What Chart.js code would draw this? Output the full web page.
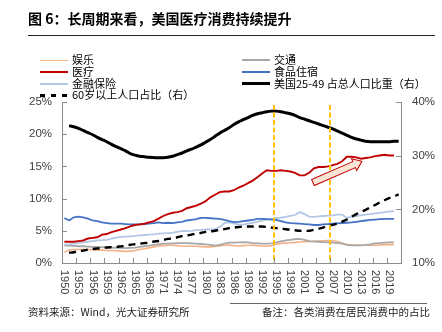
<!DOCTYPE html>
<html><head><meta charset="utf-8">
<script src="https://cdn.jsdelivr.net/npm/chart.js@4.4.1/dist/chart.umd.min.js"></script>
<style>
html,body{margin:0;padding:0;background:#fff;}
#wrap{position:relative;width:442px;height:332px;overflow:hidden;font-family:"Noto Sans CJK SC","Noto Sans",sans-serif;color:#000;}
#chart{position:absolute;left:0;top:0;}
.title{position:absolute;left:28px;top:9px;font-size:14px;font-weight:bold;line-height:18px;white-space:nowrap;}
.rule{position:absolute;left:28px;width:407px;top:35px;height:1px;background:#222;}
.lgt{position:absolute;font-size:11px;line-height:12px;white-space:nowrap;}
.lgl{position:absolute;width:28px;}
.foot{position:absolute;font-size:10.5px;line-height:12px;white-space:nowrap;color:#222;}
.frule{position:absolute;left:230px;width:197px;top:303px;height:1px;background:#666;}
</style>
</head><body>
<div id="wrap">
  <canvas id="chart" width="442" height="332"></canvas>
  <div class="title">图 6：长周期来看，美国医疗消费持续提升</div>
  <div class="rule"></div>
  <div id="legend"></div>
  <div class="frule"></div>
  <div class="foot" style="left:28px;top:306px;">资料来源：Wind，光大证券研究所</div>
  <div class="foot" style="right:12px;top:306px;">备注：各类消费在居民消费中的占比</div>
</div>
<script>
// ---------- data ----------
const consumptionYears = [1950,1951,1952,1953,1954,1955,1956,1957,1958,1959,1960,1961,1962,1963,1964,1965,1966,1967,1968,1969,1970,1971,1972,1973,1974,1975,1976,1977,1978,1979,1980,1981,1982,1983,1984,1985,1986,1987,1988,1989,1990,1991,1992,1993,1994,1995,1996,1997,1998,1999,2000,2001,2002,2003,2004,2005,2006,2007,2008,2009,2010,2011,2012,2013,2014,2015,2016,2017,2018,2019,2020];
const populationYears = [1951,1952,1953,1954,1955,1956,1957,1958,1959,1960,1961,1962,1963,1964,1965,1966,1967,1968,1969,1970,1971,1972,1973,1974,1975,1976,1977,1978,1979,1980,1981,1982,1983,1984,1985,1986,1987,1988,1989,1990,1991,1992,1993,1994,1995,1996,1997,1998,1999,2000,2001,2002,2003,2004,2005,2006,2007,2008,2009,2010,2011,2012,2013,2014,2015,2016,2017,2018,2019,2020,2021];
const tickLabels = [1950,1953,1956,1959,1962,1965,1968,1971,1974,1977,1980,1983,1986,1989,1992,1995,1998,2001,2004,2007,2010,2013,2016,2019];

const entertainment = [1.65,2.0,2.1,2.1,2.1,2.1,2.05,2.0,2.0,1.95,1.95,1.9,1.85,1.8,1.85,1.95,2.1,2.2,2.35,2.5,2.65,2.7,2.75,2.75,2.7,2.6,2.6,2.6,2.6,2.55,2.5,2.5,2.55,2.65,2.75,2.8,2.7,2.65,2.7,2.75,2.75,2.7,2.65,2.6,2.7,2.9,3.05,3.1,3.15,3.2,3.25,3.3,3.35,3.35,3.4,3.45,3.5,3.45,3.35,3.1,2.85,2.8,2.75,2.75,2.75,2.75,2.75,2.8,2.85,2.85,2.85];
const healthcare = [3.3,3.3,3.3,3.4,3.5,3.8,3.9,4.0,4.4,4.5,4.8,5.0,5.2,5.4,5.7,5.9,6.0,6.1,6.3,6.5,6.9,7.3,7.6,7.8,7.9,8.1,8.5,8.7,8.9,9.2,9.6,10.2,10.6,11.0,11.1,11.1,11.3,11.7,12.0,12.4,12.8,13.3,13.9,14.4,14.3,14.3,14.4,14.3,14.2,14.0,13.6,13.6,14.0,14.7,14.9,14.9,15.0,15.2,15.4,15.8,16.5,16.5,16.4,16.2,16.3,16.4,16.6,16.7,16.8,16.7,16.7];
const finance = [2.85,2.9,3.0,3.1,3.2,3.3,3.4,3.5,3.55,3.6,3.8,3.95,4.05,4.1,4.15,4.2,4.3,4.35,4.4,4.45,4.55,4.6,4.65,4.7,4.85,5.0,4.95,5.0,5.1,5.15,5.2,5.2,5.25,5.6,6.2,6.3,6.15,6.0,5.95,6.1,6.25,6.4,6.6,6.75,6.85,6.95,7.05,7.15,7.3,7.45,7.9,7.6,7.2,7.15,7.25,7.3,7.35,7.4,7.5,7.5,7.0,7.2,7.3,7.4,7.5,7.6,7.7,7.8,7.9,8.0,8.05];
const transport = [2.7,2.7,2.65,2.6,2.6,2.55,2.5,2.5,2.45,2.4,2.4,2.35,2.35,2.3,2.35,2.4,2.5,2.6,2.7,2.8,2.9,3.0,3.0,3.05,3.1,3.1,3.1,3.05,3.0,2.95,2.9,2.8,2.7,2.8,3.0,3.15,3.15,3.2,3.25,3.2,3.1,3.05,3.0,3.0,3.05,3.2,3.35,3.5,3.6,3.7,3.75,3.6,3.4,3.35,3.3,3.25,3.2,3.15,3.1,3.0,2.8,2.75,2.75,2.75,2.8,2.9,3.05,3.1,3.15,3.2,3.2];
const foodHousing = [7.0,6.6,7.1,7.2,7.1,6.9,6.6,6.5,6.3,6.2,6.1,6.1,6.1,6.05,6.0,6.0,6.0,6.05,6.1,6.2,6.3,6.2,6.25,6.2,6.3,6.4,6.6,6.7,6.8,7.0,7.0,6.95,6.9,6.85,6.7,6.5,6.35,6.4,6.5,6.6,6.7,6.85,6.85,6.8,6.75,6.7,6.5,6.3,6.2,6.15,6.1,6.05,6.0,5.9,5.9,6.0,6.05,6.1,6.15,6.2,6.25,6.3,6.4,6.5,6.6,6.7,6.75,6.8,6.85,6.85,6.85];
const age60Share = [11.9,12.0,12.2,12.3,12.5,12.6,12.7,12.8,12.9,12.95,13.0,13.1,13.2,13.4,13.5,13.6,13.7,13.8,14.0,14.1,14.3,14.5,14.6,14.8,15.0,15.1,15.3,15.5,15.6,15.8,15.9,16.0,16.2,16.3,16.5,16.6,16.7,16.8,16.8,16.8,16.8,16.8,16.7,16.6,16.5,16.4,16.3,16.2,16.1,16.0,16.0,16.0,16.2,16.4,16.6,16.9,17.1,17.4,17.7,18.1,18.6,19.1,19.5,19.9,20.4,20.8,21.3,21.7,22.1,22.4,22.8];
const age2549Share = [35.6,35.4,35.1,34.7,34.3,33.9,33.4,33.0,32.6,32.1,31.7,31.3,30.9,30.4,30.1,29.9,29.8,29.7,29.65,29.6,29.6,29.7,29.9,30.2,30.5,30.9,31.2,31.6,32.0,32.5,33.0,33.6,34.2,34.7,35.2,35.8,36.3,36.7,37.1,37.5,37.8,38.0,38.2,38.3,38.3,38.2,38.0,37.8,37.5,37.1,36.8,36.5,36.2,35.9,35.6,35.3,35.0,34.6,34.2,33.8,33.4,33.1,32.9,32.7,32.6,32.6,32.6,32.6,32.6,32.7,32.7];

const seriesNames = ['娱乐','医疗','金融保险','60岁以上人口占比（右）','交通','食品住宿','美国25-49 占总人口比重（右）'];
const markerYears = [1994.6, 2006.5];         // vertical reference lines
const arrowFrom = [2002.8, 12.5];             // [year, % on left axis]
const arrowTo   = [2013.2, 15.8];

// ---------- styles ----------
const styles = [
  {color:'#F4B183', width:1.6, dash:[], axis:'y'},
  {color:'#C00000', width:1.9, dash:[], axis:'y'},
  {color:'#B4C7E7', width:1.8, dash:[], axis:'y'},
  {color:'#000000', width:2.4, dash:[7,5], axis:'y2'},
  {color:'#A8A8A8', width:1.8, dash:[], axis:'y'},
  {color:'#4472C4', width:1.8, dash:[], axis:'y'},
  {color:'#000000', width:3.0, dash:[], axis:'y2'}
];
const seriesValues = [entertainment, healthcare, finance, age60Share, transport, foodHousing, age2549Share];
const AXIS = '#8C8C8C';

function pts(xs, ys){ return ys.map((v,i)=>({x:xs[i], y:v})); }

// draw order: index 0 on top in Chart.js -> put black lines first
const drawOrder = [6,3,1,5,2,4,0];
const datasets = drawOrder.map(i => ({
  label: seriesNames[i],
  data: pts(styles[i].axis==='y2' ? populationYears : consumptionYears, seriesValues[i]),
  borderColor: styles[i].color,
  borderWidth: styles[i].width,
  borderDash: styles[i].dash,
  yAxisID: styles[i].axis,
  pointRadius: 0,
  tension: styles[i].axis==='y2' ? 0.3 : 0,
  fill: false
}));

// ---------- legend (HTML) ----------
const legendLayout = [[0,0],[0,1],[0,2],[0,3],[1,0],[1,1],[1,2]]; // [col,row]
const lg = document.getElementById('legend');
seriesNames.forEach((name,i)=>{
  const [c,r] = legendLayout[i];
  const lx = c ? 242 : 40, cy = 59.3 + r*11.7;
  const s = styles[i];
  const line = document.createElement('div');
  line.className = 'lgl';
  line.style.left = lx+'px';
  line.style.top = (cy + 1 - s.width/2)+'px';
  line.style.height = s.width+'px';
  line.style.background = s.dash.length
    ? `repeating-linear-gradient(90deg, ${s.color} 0 5px, transparent 5px 11px)`
    : s.color;
  lg.appendChild(line);
  const t = document.createElement('div');
  t.className = 'lgt';
  t.style.left = (lx+32)+'px';
  t.style.top = (cy-6)+'px';
  t.textContent = name;
  lg.appendChild(t);
});

// ---------- plugins ----------
const decor = {
  id:'decor',
  afterDatasetsDraw(chart){
    const {ctx, chartArea:a, scales:{x,y,y2}} = chart;
    ctx.save();
    // vertical dashed markers
    ctx.strokeStyle = '#FFC000'; ctx.lineWidth = 2; ctx.setLineDash([5,2.5]);
    markerYears.forEach(yr=>{
      const px = Math.round(x.getPixelForValue(yr));
      ctx.beginPath(); ctx.moveTo(px, a.top+3); ctx.lineTo(px, a.bottom); ctx.stroke();
    });
    ctx.setLineDash([]);
    // arrow
    const x0 = x.getPixelForValue(arrowFrom[0]), y0 = y.getPixelForValue(arrowFrom[1]);
    const x1 = x.getPixelForValue(arrowTo[0]),   y1 = y.getPixelForValue(arrowTo[1]);
    const ang = Math.atan2(y1-y0, x1-x0), len = Math.hypot(x1-x0, y1-y0);
    const sw = 3.3, hw = 6.5, hl = 8.5;
    ctx.translate(x0,y0); ctx.rotate(ang);
    ctx.beginPath();
    ctx.moveTo(0,-sw); ctx.lineTo(len-hl,-sw); ctx.lineTo(len-hl,-hw); ctx.lineTo(len,0);
    ctx.lineTo(len-hl,hw); ctx.lineTo(len-hl,sw); ctx.lineTo(0,sw); ctx.closePath();
    ctx.fillStyle = '#FBE3D6'; ctx.fill();
    ctx.strokeStyle = '#C00000'; ctx.lineWidth = 1; ctx.stroke();
    ctx.restore();
  },
  afterDraw(chart){
    const {ctx, chartArea:a, scales:{x,y,y2}} = chart;
    ctx.save();
    ctx.strokeStyle = AXIS; ctx.lineWidth = 1;
    ctx.beginPath();
    y.ticks.forEach(t=>{ const py = Math.round(y.getPixelForValue(t.value))+0.5; ctx.moveTo(a.left, py); ctx.lineTo(a.left+5, py); });
    y2.ticks.forEach(t=>{ const py = Math.round(y2.getPixelForValue(t.value))+0.5; ctx.moveTo(a.right, py); ctx.lineTo(a.right-5, py); });
    tickLabels.forEach(yr=>{ const px = Math.round(x.getPixelForValue(yr-0.5))+0.5; ctx.moveTo(px, a.bottom); ctx.lineTo(px, a.bottom-5); });
    ctx.stroke();
    // rotated year labels (reading top to bottom)
    ctx.fillStyle = '#404040';
    ctx.font = '11px "Liberation Sans", Arial, sans-serif';
    ctx.textAlign = 'left'; ctx.textBaseline = 'middle';
    tickLabels.forEach(yr=>{
      const px = x.getPixelForValue(yr);
      ctx.save(); ctx.translate(px, a.bottom+7); ctx.rotate(Math.PI/2);
      ctx.fillText(String(yr), 0, 0); ctx.restore();
    });
    ctx.restore();
  }
};

const tickFont = {family:'"Liberation Sans", Arial, sans-serif', size:11.5};
new Chart(document.getElementById('chart'), {
  type:'line',
  data:{datasets},
  options:{
    responsive:false, animation:false, devicePixelRatio:1,
    layout:{padding:{top:102, left:0, right:0, bottom:0}},
    plugins:{legend:{display:false}, tooltip:{enabled:false}},
    scales:{
      x:{type:'linear', min:1949.5, max:2021.5,
         grid:{display:false, drawTicks:false},
         border:{display:true, color:AXIS, width:1},
         ticks:{display:false},
         afterFit(s){ s.height = 69; }},
      y:{position:'left', min:0, max:25,
         grid:{display:false, drawTicks:false},
         border:{display:true, color:AXIS, width:1},
         ticks:{stepSize:5, padding:10, color:'#404040', font:tickFont, callback:v=>v+'%'},
         afterFit(s){ s.width = 62; }},
      y2:{position:'right', min:10, max:40,
         grid:{display:false, drawTicks:false},
         border:{display:true, color:AXIS, width:1},
         ticks:{stepSize:10, padding:11, color:'#404040', font:tickFont, callback:v=>v+'%'},
         afterFit(s){ s.width = 41; }}
    }
  },
  plugins:[decor]
});
</script>
</body></html>
